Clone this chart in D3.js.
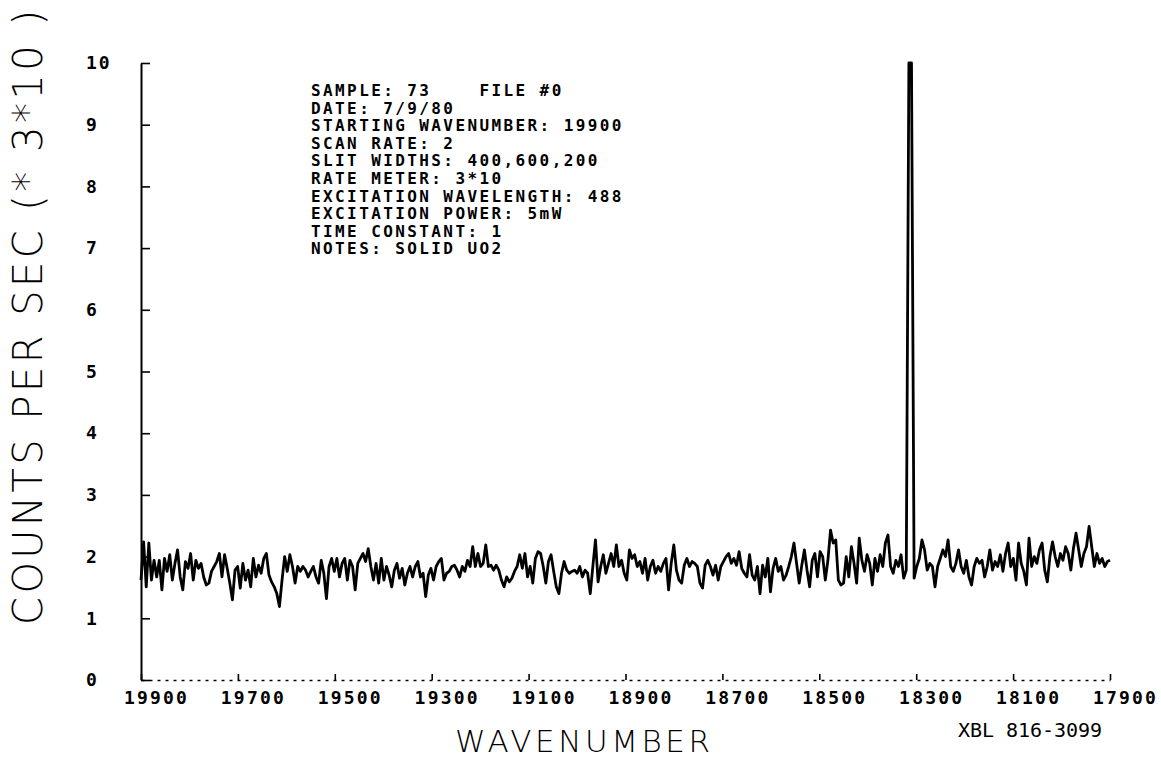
<!DOCTYPE html>
<html>
<head>
<meta charset="utf-8">
<script src="https://cdn.jsdelivr.net/npm/d3@7"></script>
<style>
  body { margin: 0; background: #fff; }
  svg { display: block; }
</style>
</head>
<body>
<svg width="1161" height="762"></svg>
<script>
// scan goes from high to low wavenumber, evenly spaced points
const scanStart = 19900
const scanEnd = 17900

const counts = [
  1.62,2.24,1.51,2.22,1.62,1.94,1.67,1.94,1.46,1.97,
  1.76,2.03,1.62,1.89,2.11,1.67,1.46,1.92,1.81,2.05,
  1.62,1.94,1.81,1.89,1.67,1.54,1.57,1.76,1.84,1.92,
  2.05,1.67,2.03,1.81,1.57,1.30,1.78,1.84,1.49,1.89,
  1.62,1.78,1.51,1.97,1.67,1.86,1.73,1.97,2.05,1.70,
  1.59,1.51,1.40,1.19,1.62,2.00,1.76,2.03,1.84,1.57,
  1.84,1.76,1.84,1.78,1.67,1.76,1.84,1.67,1.57,1.94,
  1.73,1.32,1.84,1.97,1.76,1.97,1.67,1.89,1.97,1.62,
  1.94,1.84,1.46,1.89,1.97,2.05,1.92,2.13,1.84,1.62,
  1.89,1.57,1.97,1.62,1.84,1.70,1.51,1.78,1.89,1.65,
  1.81,1.54,1.73,1.84,1.67,1.84,1.92,1.67,1.73,1.35,
  1.70,1.81,1.62,1.84,1.92,1.97,1.62,1.73,1.76,1.84,
  1.86,1.78,
  1.67,1.84,1.76,1.94,1.84,2.16,1.84,2.05,1.84,1.89,
  2.19,1.84,1.86,1.78,1.86,1.78,1.62,1.51,1.67,1.59,
  1.65,1.76,1.84,2.03,1.81,2.05,1.67,1.84,1.57,1.97,
  2.08,2.05,1.84,1.57,1.92,2.03,1.76,1.51,1.40,1.73,
  1.92,1.78,1.73,1.76,1.78,1.73,1.84,1.67,1.78,1.73,
  1.40,1.84,2.27,1.59,1.84,2.03,1.73,1.89,2.05,1.84,
  2.19,1.84,1.94,1.73,1.62,2.11,1.97,2.03,1.84,1.92,
  1.73,1.97,1.62,1.84,1.94,1.73,1.84,1.76,1.89,1.97,
  1.46,1.89,2.19,1.78,1.62,1.57,1.86,1.97,1.84,1.92,
  1.89,1.84,1.57,1.49,1.86,1.94,1.84,1.70,1.86,1.62,
  1.84,1.92,2.00,2.05,1.89,1.97,1.86,2.08,1.81,1.73,
  1.67,2.03,1.70,1.62,1.84,1.40,1.86,1.67,1.97,1.43,
  1.81,1.97,1.76,1.84,1.62,1.70,1.84,2.00,2.22,
  1.89,1.57,1.86,2.11,1.78,1.51,1.94,2.05,1.67,2.08,
  2.00,1.62,1.94,2.43,2.22,2.27,1.62,1.54,1.57,2.00,
  1.67,2.16,1.89,1.57,2.30,1.94,1.76,2.03,1.89,1.54,
  1.97,1.76,2.03,1.84,2.22,2.35,1.84,1.73,1.94,1.84,
  2.03,1.65,1.78,
  10,10,   // the big line, pen hits the top of the scale
  1.65,1.84,1.97,2.27,2.11,1.78,1.89,1.84,1.51,1.84,
  1.97,2.11,2.00,2.27,1.84,1.76,1.89,2.11,1.84,1.73,
  1.94,1.67,1.54,1.84,1.97,1.89,1.94,1.67,1.84,2.11,
  1.78,1.92,1.84,2.03,1.76,2.05,2.22,1.84,1.97,1.62,
  2.22,1.89,1.76,1.54,2.30,1.84,2.00,1.89,2.11,2.22,
  1.78,1.59,2.00,2.24,2.00,1.84,2.05,1.94,2.16,2.05,
  1.78,2.13,2.38,2.11,1.84,2.05,2.16,2.49,2.16,1.84,
  2.05,1.89,1.97,1.84,1.92,1.94
]

const xTicks = [19900, 19700, 19500, 19300, 19100, 18900, 18700, 18500, 18300, 18100, 17900]
const yTicks = [0, 1, 2, 3, 4, 5, 6, 7, 8, 9, 10]

const infoLines = [
  "SAMPLE: 73    FILE #0",
  "DATE: 7/9/80",
  "STARTING WAVENUMBER: 19900",
  "SCAN RATE: 2",
  "SLIT WIDTHS: 400,600,200",
  "RATE METER: 3*10",
  "EXCITATION WAVELENGTH: 488",
  "EXCITATION POWER: 5mW",
  "TIME CONSTANT: 1",
  "NOTES: SOLID UO2"
]

let svg = d3.select("svg")

let x = d3.scaleLinear().domain([scanStart, scanEnd]).range([141, 1110])
let y = d3.scaleLinear().domain([0, 10]).range([680, 63])

const plotterFont = "'DejaVu Sans Mono', monospace"
const thinFont = "'DejaVu Sans', sans-serif"

// y axis, ticks pointing inward
let yAxis = svg.append("g")
    .attr("transform", "translate(141,0)")
    .call(d3.axisLeft(y).tickValues(yTicks).tickFormat(d3.format("d")).tickSizeInner(-9).tickSizeOuter(0))
yAxis.select(".domain").attr("stroke-width", 2)
yAxis.selectAll(".tick line").attr("stroke-width", 1.6)
yAxis.selectAll("text")
    .attr("x", -55)
    .attr("text-anchor", "start")
    .attr("font-family", plotterFont)
    .attr("font-weight", "bold")
    .attr("font-size", 18)
    .attr("letter-spacing", 2)
    .attr("fill", "#000")

// x axis, the plotter line is broken along the bottom
let xAxis = svg.append("g")
    .attr("transform", "translate(0,680)")
    .call(d3.axisBottom(x).tickValues(xTicks).tickFormat(d3.format("d")).tickSizeInner(-6).tickSizeOuter(0))
xAxis.select(".domain").attr("stroke-width", 1.5).attr("stroke-dasharray", "3,5")
xAxis.selectAll(".tick line").attr("stroke-width", 1.6)
xAxis.selectAll("text")
    .attr("x", 15)
    .attr("y", 24)
    .attr("dy", null)
    .attr("font-family", plotterFont)
    .attr("font-weight", "bold")
    .attr("font-size", 18)
    .attr("letter-spacing", 2.2)
    .attr("fill", "#000")

// the trace
let line = d3.line()
    .x((d, i) => x(scanStart + (scanEnd - scanStart) * i / (counts.length - 1)))
    .y(d => y(d))

svg.append("path")
    .datum(counts)
    .attr("d", line)
    .attr("fill", "none")
    .attr("stroke", "#000")
    .attr("stroke-width", 2.8)
    .attr("stroke-linejoin", "round")

// header block written by the plotter
svg.append("g")
    .selectAll("text")
    .data(infoLines)
    .enter().append("text")
    .attr("x", 311)
    .attr("y", (d, i) => 96 + i * 17.6)
    .attr("font-family", plotterFont)
    .attr("font-weight", "bold")
    .attr("font-size", 16)
    .attr("letter-spacing", 2.4)
    .attr("xml:space", "preserve")
    .style("white-space", "pre")
    .text(d => d)

// axis titles
svg.append("text")
    .attr("transform", "translate(42,625) rotate(-90)")
    .attr("font-family", thinFont)
    .attr("font-weight", 200)
    .attr("font-size", 40)
    .attr("textLength", 615)
    .attr("lengthAdjust", "spacing")
    .text("COUNTS PER SEC (* 3*10 )")

svg.append("text")
    .attr("x", 455)
    .attr("y", 752)
    .attr("font-family", thinFont)
    .attr("font-weight", 200)
    .attr("font-size", 31)
    .attr("textLength", 255)
    .attr("lengthAdjust", "spacing")
    .text("WAVENUMBER")

svg.append("text")
    .attr("x", 958)
    .attr("y", 737)
    .attr("font-family", plotterFont)
    .attr("font-size", 20)
    .attr("textLength", 144)
    .attr("lengthAdjust", "spacing")
    .text("XBL 816-3099")
</script>
</body>
</html>
